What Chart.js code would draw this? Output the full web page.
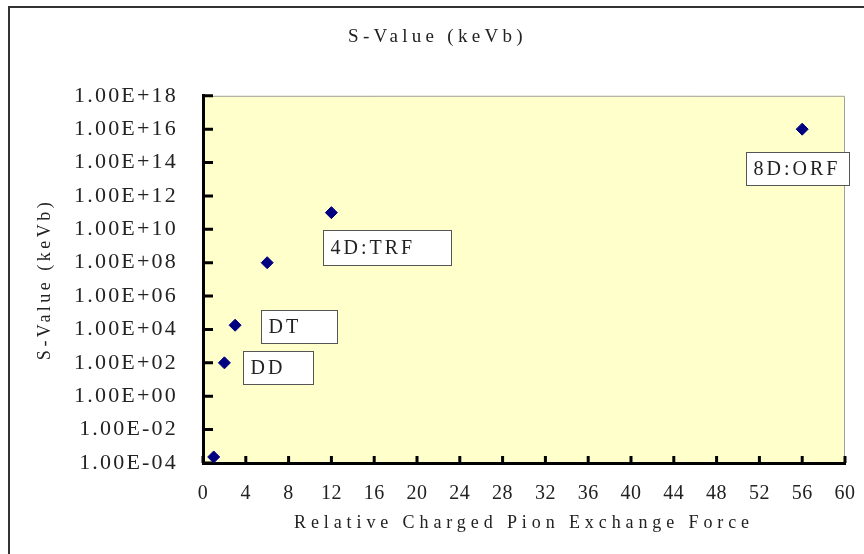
<!DOCTYPE html>
<html>
<head>
<meta charset="utf-8">
<script src="https://cdn.jsdelivr.net/npm/chart.js@4.4.0/dist/chart.umd.min.js"></script>
<style>
  html, body { margin: 0; padding: 0; background: #fff; }
  #wrap { width: 864px; height: 554px; position: relative; }
</style>
</head>
<body>
<div id="wrap"><canvas id="sValueChart"></canvas></div>
<script>
const forceValues = [1, 2, 3, 6, 12, 56];
const sValues = [2.3e-4, 1e2, 1.8e4, 1e8, 1e11, 1e16];
const pointLabels = ['', 'DD', 'DT', '', '4D:TRF', '8D:ORF'];
const yTickValues = [1e-4, 1e-2, 1e0, 1e2, 1e4, 1e6, 1e8, 1e10, 1e12, 1e14, 1e16, 1e18];
const xTickStep = 4;

// label box placement relative to its point: [dx, dy, width, height]
const labelBoxes = {
  'DD': [19, -12, 70, 33],
  'DT': [26, -15, 76, 33],
  '4D:TRF': [-8, 17, 128, 35],
  '8D:ORF': [-56, 23, 103, 33],
};

const FONT = "'Liberation Serif', 'Times New Roman', serif";
const TEXT = '#222';

// 1e18 -> "1.00E+18"
function sci(v) {
  const [m, e] = v.toExponential(2).toUpperCase().split('E');
  const n = Number(e);
  return m + 'E' + (n < 0 ? '-' : '+') + String(Math.abs(n)).padStart(2, '0');
}

// the original font is wide-spaced, so fake it with letterSpacing
const gaps = { x: ['0.5px', '4.9px'], y: ['2.2px', '3.5px'] };

const excelLook = {
  id: 'excelLook',
  beforeDraw(chart) {
    const { ctx, chartArea: a } = chart;
    ctx.save();
    ctx.fillStyle = '#fff';
    ctx.fillRect(0, 0, chart.width, chart.height);
    ctx.strokeStyle = '#333';
    ctx.lineWidth = 2;
    ctx.strokeRect(9, 7, chart.width, chart.height);
    ctx.fillStyle = '#ffffcc';
    ctx.fillRect(a.left, a.top, a.right - a.left, a.bottom - a.top);
    ctx.strokeStyle = '#a0a0a0';
    ctx.lineWidth = 1;
    ctx.beginPath();
    ctx.moveTo(a.left, a.top + 0.5);
    ctx.lineTo(a.right - 0.5, a.top + 0.5);
    ctx.lineTo(a.right - 0.5, a.bottom);
    ctx.stroke();
    ctx.restore();
    ctx.letterSpacing = '4.3px';

    Object.values(chart.scales).forEach(s => {
      if (s._gapped) return;
      s._gapped = true;
      const [tickGap, titleGap] = gaps[s.id];
      const wrap = (name, gap) => {
        const fn = s[name];
        s[name] = function (...args) {
          const c = this.ctx;
          const old = c.letterSpacing;
          c.letterSpacing = gap;
          fn.apply(this, args);
          c.letterSpacing = old;
        };
      };
      wrap('drawLabels', tickGap);
      wrap('drawTitle', titleGap);
    });
  },
  afterDraw(chart) {
    const { ctx, chartArea: a, scales } = chart;
    ctx.save();
    // tick marks pointing into the plot
    ctx.strokeStyle = '#000';
    ctx.lineWidth = 3;
    ctx.beginPath();
    scales.x.ticks.forEach(t => {
      const px = scales.x.getPixelForValue(t.value);
      ctx.moveTo(px, a.bottom);
      ctx.lineTo(px, a.bottom - 7);
    });
    scales.y.ticks.forEach(t => {
      const py = scales.y.getPixelForValue(t.value);
      ctx.moveTo(a.left, py);
      ctx.lineTo(a.left + 10, py);
    });
    ctx.stroke();

    // data label boxes
    const meta = chart.getDatasetMeta(0);
    ctx.font = '20px ' + FONT;
    ctx.letterSpacing = '3px';
    ctx.textBaseline = 'middle';
    ctx.textAlign = 'left';
    pointLabels.forEach((label, i) => {
      if (!label) return;
      const [dx, dy, w, h] = labelBoxes[label];
      const pt = meta.data[i];
      const x = Math.round(pt.x + dx) + 0.5;
      const y = Math.round(pt.y + dy) + 0.5;
      ctx.fillStyle = '#fff';
      ctx.fillRect(x, y, w, h);
      ctx.strokeStyle = '#555';
      ctx.lineWidth = 1;
      ctx.strokeRect(x, y, w, h);
      ctx.fillStyle = TEXT;
      ctx.fillText(label, x + 7, y + h / 2 + 1);
    });
    ctx.restore();
  }
};

new Chart(document.getElementById('sValueChart'), {
  type: 'scatter',
  data: {
    datasets: [{
      data: forceValues.map((x, i) => ({ x: x, y: sValues[i] })),
      pointStyle: 'rectRot',
      radius: 6,
      hoverRadius: 6,
      backgroundColor: '#000080',
      borderColor: '#000080',
      borderWidth: 1,
    }]
  },
  options: {
    responsive: true,
    maintainAspectRatio: false,
    animation: false,
    layout: { padding: { left: 30, right: 19, top: 0, bottom: 0 } },
    plugins: {
      legend: { display: false },
      tooltip: { enabled: false },
      title: {
        display: true,
        text: 'S-Value (keVb)',
        color: TEXT,
        font: { family: FONT, size: 19, weight: 'normal' },
        padding: { top: 26, bottom: 47 },
      },
    },
    scales: {
      x: {
        type: 'linear',
        min: 0,
        max: 60,
        ticks: {
          stepSize: xTickStep,
          color: TEXT,
          font: { family: FONT, size: 20 },
          padding: 11,
          maxRotation: 0,
        },
        grid: { display: false },
        border: { color: '#000', width: 3 },
        title: {
          display: true,
          text: 'Relative Charged Pion Exchange Force',
          color: TEXT,
          font: { family: FONT, size: 18 },
          padding: { top: 0, bottom: 20 },
        },
        afterFit(s) {
          s.height = 91;
          s.paddingLeft = 0;
          s.paddingRight = 0;
        },
      },
      y: {
        type: 'logarithmic',
        min: 1e-4,
        max: 1e18,
        afterBuildTicks(s) { s.ticks = yTickValues.map(v => ({ value: v })); },
        ticks: {
          callback: v => sci(v),
          color: TEXT,
          font: { family: FONT, size: 22 },
          padding: 17,
          autoSkip: false,
        },
        grid: { display: false },
        border: { color: '#000', width: 3 },
        title: {
          display: true,
          text: 'S-Value (keVb)',
          color: TEXT,
          font: { family: FONT, size: 18 },
          padding: { top: 4, bottom: 0 },
        },
        afterFit(s) { s.width = 173; },
      },
    },
  },
  plugins: [excelLook],
});
</script>
</body>
</html>
